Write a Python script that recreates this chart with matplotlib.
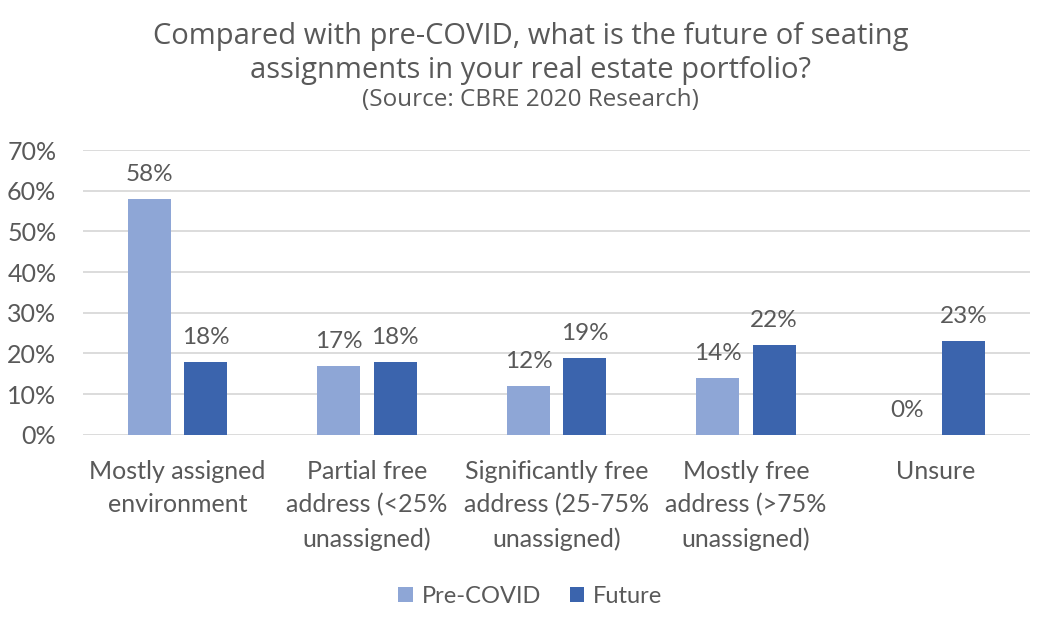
import numpy as np
import matplotlib.pyplot as plt
from matplotlib.ticker import PercentFormatter

categories = ["Mostly assigned\nenvironment", "Partial free\naddress (<25%\nunassigned)",
              "Significantly free\naddress (25-75%\nunassigned)", "Mostly free\naddress (>75%\nunassigned)",
              "Unsure"]
pre_covid = [58, 17, 12, 14, 0]
future = [18, 18, 19, 22, 23]

gray = "#595959"
c_pre = "#8EA6D6"
c_fut = "#3B64AD"
body_font = ["Lato", "DejaVu Sans"]
title_font = ["Open Sans", "DejaVu Sans"]

fig = plt.figure(figsize=(10.61, 6.33), dpi=100)
ax = fig.add_axes([0.078, 0.313, 0.893, 0.45])

x = np.arange(len(categories))
w = 0.227
off = 0.148
b1 = ax.bar(x - off, pre_covid, w, color=c_pre, label="Pre-COVID", zorder=3)
b2 = ax.bar(x + off, future, w, color=c_fut, label="Future", zorder=3)

for bars, vals in ((b1, pre_covid), (b2, future)):
    for rect, v in zip(bars, vals):
        ax.annotate(f"{v}%", (rect.get_x() + rect.get_width() / 2, v),
                    xytext=(0, 10), textcoords="offset points", ha="center", va="bottom",
                    fontsize=17.5, color=gray, family=body_font)

ax.set_xlim(-0.5, len(categories) - 0.5)
ax.set_ylim(0, 70)
ax.set_yticks(range(0, 71, 10))
ax.yaxis.set_major_formatter(PercentFormatter(decimals=0))
ax.set_xticks(x)
ax.set_xticklabels(categories, linespacing=1.55)
for lab in ax.get_xticklabels() + ax.get_yticklabels():
    lab.set_family(body_font)
    lab.set_fontsize(18)
    lab.set_color(gray)
ax.tick_params(axis="both", length=0)
ax.tick_params(axis="x", pad=18)
ax.tick_params(axis="y", pad=19)
for s in ax.spines.values():
    s.set_visible(False)
ax.grid(axis="y", color="#D9D9D9", linewidth=1.3, zorder=0)

fig.text(0.5, 0.943, "Compared with pre-COVID, what is the future of seating", ha="center", va="center",
         fontsize=21, color=gray, family=title_font, weight="medium")
fig.text(0.5, 0.889, "assignments in your real estate portfolio?", ha="center", va="center",
         fontsize=21, color=gray, family=title_font, weight="medium")
fig.text(0.5, 0.842, "(Source: CBRE 2020 Research)", ha="center", va="center",
         fontsize=17.5, color=gray, family=title_font, weight="medium")

leg = fig.legend(loc="center", bbox_to_anchor=(0.5, 0.058), ncol=2, frameon=False,
                 prop={"family": body_font, "size": 17}, handlelength=0.6, handleheight=0.6,
                 handletextpad=0.4, columnspacing=1.2)
for t in leg.get_texts():
    t.set_color(gray)

fig.savefig("out.png", dpi=100)
